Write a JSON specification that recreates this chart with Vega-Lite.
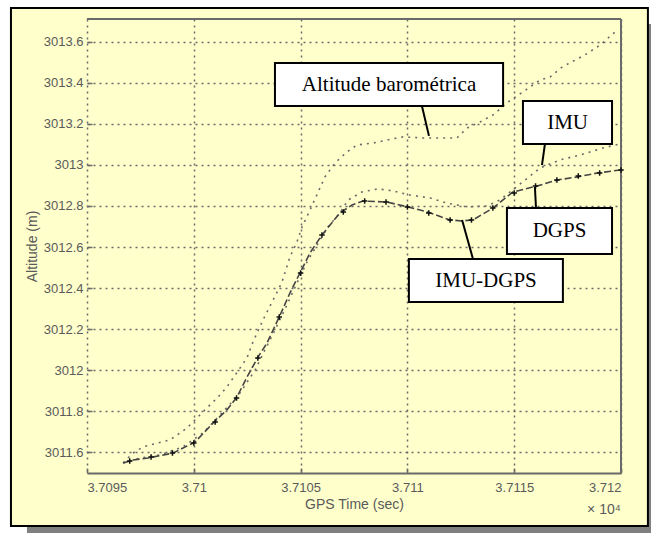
{
  "$schema": "https://vega.github.io/schema/vega-lite/v6.json",
  "width": 534,
  "height": 454,
  "autosize": {"type": "none"},
  "padding": {"left": 87, "top": 19, "right": 30, "bottom": 60},
  "background": "#FFFFCC",
  "config": {
    "view": {"stroke": null},
    "axis": {
      "grid": true,
      "gridDash": [2, 4],
      "gridColor": "#6a6a6a",
      "gridWidth": 1.5,
      "domainColor": "#6a6a6a",
      "domainWidth": 2,
      "tickColor": "#6a6a6a",
      "tickWidth": 1.5,
      "tickSize": -5,
      "labelFont": "Liberation Sans",
      "labelFontSize": 13,
      "labelColor": "#5a5a5a",
      "titleFont": "Liberation Sans",
      "titleFontSize": 14,
      "titleFontWeight": "normal",
      "titleColor": "#5a5a5a"
    }
  },
  "datasets": {
    "curves": [
      {"serie": "Altitude barométrica", "t": 37096.69, "alt": 3011.549},
      {"serie": "Altitude barométrica", "t": 37097.15, "alt": 3011.597},
      {"serie": "Altitude barométrica", "t": 37097.62, "alt": 3011.627},
      {"serie": "Altitude barométrica", "t": 37098.32, "alt": 3011.646},
      {"serie": "Altitude barométrica", "t": 37098.89, "alt": 3011.661},
      {"serie": "Altitude barométrica", "t": 37099.68, "alt": 3011.719},
      {"serie": "Altitude barométrica", "t": 37100.52, "alt": 3011.807},
      {"serie": "Altitude barométrica", "t": 37101.09, "alt": 3011.865},
      {"serie": "Altitude barométrica", "t": 37101.55, "alt": 3011.919},
      {"serie": "Altitude barométrica", "t": 37102.49, "alt": 3012.060},
      {"serie": "Altitude barométrica", "t": 37102.77, "alt": 3012.138},
      {"serie": "Altitude barométrica", "t": 37103.24, "alt": 3012.245},
      {"serie": "Altitude barométrica", "t": 37103.47, "alt": 3012.293},
      {"serie": "Altitude barométrica", "t": 37103.90, "alt": 3012.381},
      {"serie": "Altitude barométrica", "t": 37104.13, "alt": 3012.430},
      {"serie": "Altitude barométrica", "t": 37104.50, "alt": 3012.551},
      {"serie": "Altitude barométrica", "t": 37104.83, "alt": 3012.625},
      {"serie": "Altitude barométrica", "t": 37105.07, "alt": 3012.698},
      {"serie": "Altitude barométrica", "t": 37105.44, "alt": 3012.780},
      {"serie": "Altitude barométrica", "t": 37106.14, "alt": 3012.941},
      {"serie": "Altitude barométrica", "t": 37106.61, "alt": 3013.009},
      {"serie": "Altitude barométrica", "t": 37107.17, "alt": 3013.063},
      {"serie": "Altitude barométrica", "t": 37107.64, "alt": 3013.097},
      {"serie": "Altitude barométrica", "t": 37108.39, "alt": 3013.106},
      {"serie": "Altitude barométrica", "t": 37109.28, "alt": 3013.126},
      {"serie": "Altitude barométrica", "t": 37109.79, "alt": 3013.136},
      {"serie": "Altitude barométrica", "t": 37110.73, "alt": 3013.131},
      {"serie": "Altitude barométrica", "t": 37111.85, "alt": 3013.131},
      {"serie": "Altitude barométrica", "t": 37112.32, "alt": 3013.131},
      {"serie": "Altitude barométrica", "t": 37112.79, "alt": 3013.179},
      {"serie": "Altitude barométrica", "t": 37113.40, "alt": 3013.209},
      {"serie": "Altitude barométrica", "t": 37114.01, "alt": 3013.243},
      {"serie": "Altitude barométrica", "t": 37114.71, "alt": 3013.306},
      {"serie": "Altitude barométrica", "t": 37115.41, "alt": 3013.355},
      {"serie": "Altitude barométrica", "t": 37116.21, "alt": 3013.413},
      {"serie": "Altitude barométrica", "t": 37116.68, "alt": 3013.428},
      {"serie": "Altitude barométrica", "t": 37117.24, "alt": 3013.476},
      {"serie": "Altitude barométrica", "t": 37118.31, "alt": 3013.535},
      {"serie": "Altitude barométrica", "t": 37119.02, "alt": 3013.583},
      {"serie": "Altitude barométrica", "t": 37119.72, "alt": 3013.647},
      {"serie": "IMU", "t": 37096.69, "alt": 3011.549},
      {"serie": "IMU", "t": 37097.48, "alt": 3011.573},
      {"serie": "IMU", "t": 37098.42, "alt": 3011.588},
      {"serie": "IMU", "t": 37099.49, "alt": 3011.627},
      {"serie": "IMU", "t": 37100.43, "alt": 3011.695},
      {"serie": "IMU", "t": 37101.23, "alt": 3011.782},
      {"serie": "IMU", "t": 37102.16, "alt": 3011.889},
      {"serie": "IMU", "t": 37102.87, "alt": 3012.001},
      {"serie": "IMU", "t": 37103.33, "alt": 3012.099},
      {"serie": "IMU", "t": 37103.80, "alt": 3012.196},
      {"serie": "IMU", "t": 37104.36, "alt": 3012.318},
      {"serie": "IMU", "t": 37104.83, "alt": 3012.425},
      {"serie": "IMU", "t": 37105.30, "alt": 3012.527},
      {"serie": "IMU", "t": 37105.77, "alt": 3012.610},
      {"serie": "IMU", "t": 37106.28, "alt": 3012.698},
      {"serie": "IMU", "t": 37106.84, "alt": 3012.766},
      {"serie": "IMU", "t": 37107.22, "alt": 3012.829},
      {"serie": "IMU", "t": 37107.87, "alt": 3012.868},
      {"serie": "IMU", "t": 37108.62, "alt": 3012.883},
      {"serie": "IMU", "t": 37109.33, "alt": 3012.873},
      {"serie": "IMU", "t": 37110.12, "alt": 3012.853},
      {"serie": "IMU", "t": 37111.06, "alt": 3012.839},
      {"serie": "IMU", "t": 37111.85, "alt": 3012.814},
      {"serie": "IMU", "t": 37112.79, "alt": 3012.795},
      {"serie": "IMU", "t": 37113.73, "alt": 3012.800},
      {"serie": "IMU", "t": 37114.33, "alt": 3012.829},
      {"serie": "IMU", "t": 37115.04, "alt": 3012.887},
      {"serie": "IMU", "t": 37116.21, "alt": 3012.985},
      {"serie": "IMU", "t": 37117.14, "alt": 3013.024},
      {"serie": "IMU", "t": 37118.08, "alt": 3013.048},
      {"serie": "IMU", "t": 37119.16, "alt": 3013.082},
      {"serie": "IMU", "t": 37119.95, "alt": 3013.102},
      {"serie": "IMU-DGPS", "t": 37096.69, "alt": 3011.549},
      {"serie": "IMU-DGPS", "t": 37097.15, "alt": 3011.563},
      {"serie": "IMU-DGPS", "t": 37097.86, "alt": 3011.573},
      {"serie": "IMU-DGPS", "t": 37099.03, "alt": 3011.597},
      {"serie": "IMU-DGPS", "t": 37100.06, "alt": 3011.651},
      {"serie": "IMU-DGPS", "t": 37100.90, "alt": 3011.743},
      {"serie": "IMU-DGPS", "t": 37101.55, "alt": 3011.807},
      {"serie": "IMU-DGPS", "t": 37102.02, "alt": 3011.870},
      {"serie": "IMU-DGPS", "t": 37102.49, "alt": 3011.967},
      {"serie": "IMU-DGPS", "t": 37103.01, "alt": 3012.065},
      {"serie": "IMU-DGPS", "t": 37103.43, "alt": 3012.133},
      {"serie": "IMU-DGPS", "t": 37104.04, "alt": 3012.269},
      {"serie": "IMU-DGPS", "t": 37104.50, "alt": 3012.376},
      {"serie": "IMU-DGPS", "t": 37104.97, "alt": 3012.474},
      {"serie": "IMU-DGPS", "t": 37105.44, "alt": 3012.571},
      {"serie": "IMU-DGPS", "t": 37106.00, "alt": 3012.659},
      {"serie": "IMU-DGPS", "t": 37106.84, "alt": 3012.766},
      {"serie": "IMU-DGPS", "t": 37107.41, "alt": 3012.805},
      {"serie": "IMU-DGPS", "t": 37107.92, "alt": 3012.824},
      {"serie": "IMU-DGPS", "t": 37109.04, "alt": 3012.819},
      {"serie": "IMU-DGPS", "t": 37110.03, "alt": 3012.795},
      {"serie": "IMU-DGPS", "t": 37110.92, "alt": 3012.771},
      {"serie": "IMU-DGPS", "t": 37111.99, "alt": 3012.732},
      {"serie": "IMU-DGPS", "t": 37112.56, "alt": 3012.727},
      {"serie": "IMU-DGPS", "t": 37113.07, "alt": 3012.732},
      {"serie": "IMU-DGPS", "t": 37114.01, "alt": 3012.790},
      {"serie": "IMU-DGPS", "t": 37114.94, "alt": 3012.868},
      {"serie": "IMU-DGPS", "t": 37116.07, "alt": 3012.897},
      {"serie": "IMU-DGPS", "t": 37117.00, "alt": 3012.926},
      {"serie": "IMU-DGPS", "t": 37117.94, "alt": 3012.941},
      {"serie": "IMU-DGPS", "t": 37118.88, "alt": 3012.960},
      {"serie": "IMU-DGPS", "t": 37119.95, "alt": 3012.975},
      {"serie": "DGPS", "t": 37097, "alt": 3011.558},
      {"serie": "DGPS", "t": 37098, "alt": 3011.578},
      {"serie": "DGPS", "t": 37099, "alt": 3011.597},
      {"serie": "DGPS", "t": 37100, "alt": 3011.646},
      {"serie": "DGPS", "t": 37101, "alt": 3011.748},
      {"serie": "DGPS", "t": 37102, "alt": 3011.865},
      {"serie": "DGPS", "t": 37103, "alt": 3012.060},
      {"serie": "DGPS", "t": 37104, "alt": 3012.259},
      {"serie": "DGPS", "t": 37105, "alt": 3012.474},
      {"serie": "DGPS", "t": 37106, "alt": 3012.659},
      {"serie": "DGPS", "t": 37107, "alt": 3012.771},
      {"serie": "DGPS", "t": 37108, "alt": 3012.824},
      {"serie": "DGPS", "t": 37109, "alt": 3012.819},
      {"serie": "DGPS", "t": 37110, "alt": 3012.795},
      {"serie": "DGPS", "t": 37111, "alt": 3012.766},
      {"serie": "DGPS", "t": 37112, "alt": 3012.732},
      {"serie": "DGPS", "t": 37113, "alt": 3012.732},
      {"serie": "DGPS", "t": 37114, "alt": 3012.790},
      {"serie": "DGPS", "t": 37115, "alt": 3012.863},
      {"serie": "DGPS", "t": 37116, "alt": 3012.897},
      {"serie": "DGPS", "t": 37117, "alt": 3012.926},
      {"serie": "DGPS", "t": 37118, "alt": 3012.946},
      {"serie": "DGPS", "t": 37119, "alt": 3012.960},
      {"serie": "DGPS", "t": 37120, "alt": 3012.975}
    ],
    "annot": [
      {"label": "Altitude barométrica", "bx1": 37103.80, "bx2": 37114.48, "by1": 3013.287, "by2": 3013.496, "tx": 37109.14, "ty": 3013.391, "lx1": 37110.68, "ly1": 3013.287, "lx2": 37111.01, "ly2": 3013.141},
      {"label": "IMU", "bx1": 37115.41, "bx2": 37119.58, "by1": 3013.102, "by2": 3013.311, "tx": 37117.50, "ty": 3013.206, "lx1": 37116.44, "ly1": 3013.102, "lx2": 37116.30, "ly2": 3012.999},
      {"label": "DGPS", "bx1": 37114.66, "bx2": 37119.58, "by1": 3012.566, "by2": 3012.790, "tx": 37117.12, "ty": 3012.678, "lx1": 37116.02, "ly1": 3012.790, "lx2": 37115.97, "ly2": 3012.892},
      {"label": "IMU-DGPS", "bx1": 37110.07, "bx2": 37117.28, "by1": 3012.332, "by2": 3012.542, "tx": 37113.68, "ty": 3012.437, "lx1": 37113.07, "ly1": 3012.542, "lx2": 37112.56, "ly2": 3012.732}
    ]
  },
  "encoding": {
    "x": {
      "type": "quantitative",
      "scale": {"domain": [37095, 37120], "nice": false, "zero": false},
      "axis": {
        "values": [37095, 37100, 37105, 37110, 37115, 37120],
        "labelExpr": "format(datum.value / 10000, '.5~g')",
        "title": "GPS Time (sec)",
        "labelPadding": 13,
        "titlePadding": 3
      }
    },
    "y": {
      "type": "quantitative",
      "scale": {"domain": [3011.5, 3013.71], "nice": false, "zero": false},
      "axis": {
        "values": [3011.6, 3011.8, 3012, 3012.2, 3012.4, 3012.6, 3012.8, 3013, 3013.2, 3013.4, 3013.6],
        "format": ".5~g",
        "title": "Altitude (m)",
        "domain": false,
        "labelPadding": 9,
        "titlePadding": 4
      }
    }
  },
  "layer": [
    {"data": {"values": [{}]}, "mark": {"type": "rect", "color": "white"},
     "encoding": {"x": {"datum": 37090.69}, "x2": {"datum": 37121.64}, "y": {"datum": 3013.764}, "y2": {"datum": 3013.827}}},
    {"data": {"values": [{}]}, "mark": {"type": "rect", "color": "white"},
     "encoding": {"x": {"datum": 37090.69}, "x2": {"datum": 37091.44}, "y": {"datum": 3011.184}, "y2": {"datum": 3013.827}}},
    {"data": {"values": [{}]}, "mark": {"type": "rect", "color": "white"},
     "encoding": {"x": {"datum": 37121.26}, "x2": {"datum": 37121.64}, "y": {"datum": 3013.686}, "y2": {"datum": 3013.827}}},
    {"data": {"values": [{}]}, "mark": {"type": "rect", "color": "white"},
     "encoding": {"x": {"datum": 37090.69}, "x2": {"datum": 37092.19}, "y": {"datum": 3011.184}, "y2": {"datum": 3011.242}}},
    {"data": {"values": [{}]}, "mark": {"type": "rect", "color": "#808080"},
     "encoding": {"x": {"datum": 37092.19}, "x2": {"datum": 37121.64}, "y": {"datum": 3011.184}, "y2": {"datum": 3011.242}}},
    {"data": {"values": [{}]}, "mark": {"type": "rect", "color": "#808080"},
     "encoding": {"x": {"datum": 37121.26}, "x2": {"datum": 37121.64}, "y": {"datum": 3011.184}, "y2": {"datum": 3013.686}}},
    {"data": {"values": [{}]}, "mark": {"type": "rect", "filled": false, "stroke": "black", "strokeWidth": 2},
     "encoding": {"x": {"datum": 37091.44}, "x2": {"datum": 37121.26}, "y": {"datum": 3011.242}, "y2": {"datum": 3013.764}}},
    {"data": {"values": [{}]}, "mark": {"type": "rule", "color": "#6a6a6a", "strokeWidth": 2},
     "encoding": {"x": {"datum": 37095}, "x2": {"datum": 37120}, "y": {"datum": 3013.71}}},
    {"data": {"values": [{}]}, "mark": {"type": "rule", "color": "#6a6a6a", "strokeWidth": 2},
     "encoding": {"x": {"datum": 37120}, "y": {"datum": 3011.5}, "y2": {"datum": 3013.71}}},
    {"data": {"name": "curves"}, "transform": [{"filter": "datum.serie === 'Altitude barométrica'"}],
     "mark": {"type": "line", "color": "#6a6a6a", "strokeWidth": 1.6, "strokeDash": [2, 5]},
     "encoding": {"x": {"field": "t", "type": "quantitative"}, "y": {"field": "alt", "type": "quantitative"}}},
    {"data": {"name": "curves"}, "transform": [{"filter": "datum.serie === 'IMU'"}],
     "mark": {"type": "line", "color": "#6a6a6a", "strokeWidth": 1.6, "strokeDash": [2, 5]},
     "encoding": {"x": {"field": "t", "type": "quantitative"}, "y": {"field": "alt", "type": "quantitative"}}},
    {"data": {"name": "curves"}, "transform": [{"filter": "datum.serie === 'IMU-DGPS'"}],
     "mark": {"type": "line", "color": "#444444", "strokeWidth": 1.6, "strokeDash": [7, 3]},
     "encoding": {"x": {"field": "t", "type": "quantitative"}, "y": {"field": "alt", "type": "quantitative"}}},
    {"data": {"name": "curves"}, "transform": [{"filter": "datum.serie === 'DGPS'"}],
     "mark": {"type": "point", "shape": "M-1,0L1,0M0,-1L0,1", "filled": false, "stroke": "#111111", "strokeWidth": 1.5, "size": 30, "opacity": 1},
     "encoding": {"x": {"field": "t", "type": "quantitative"}, "y": {"field": "alt", "type": "quantitative"}}},
    {"data": {"name": "annot"},
     "mark": {"type": "rule", "color": "black", "strokeWidth": 2},
     "encoding": {"x": {"field": "lx1", "type": "quantitative"}, "x2": {"field": "lx2"}, "y": {"field": "ly1", "type": "quantitative"}, "y2": {"field": "ly2"}}},
    {"data": {"name": "annot"},
     "mark": {"type": "rect", "fill": "white", "stroke": "black", "strokeWidth": 2},
     "encoding": {"x": {"field": "bx1", "type": "quantitative"}, "x2": {"field": "bx2"}, "y": {"field": "by1", "type": "quantitative"}, "y2": {"field": "by2"}}},
    {"data": {"name": "annot"},
     "mark": {"type": "text", "font": "Liberation Serif", "fontSize": 21, "color": "black", "align": "center", "baseline": "middle"},
     "encoding": {"x": {"field": "tx", "type": "quantitative"}, "y": {"field": "ty", "type": "quantitative"}, "text": {"field": "label"}}},
    {"data": {"values": [{}]},
     "mark": {"type": "text", "font": "Liberation Sans", "fontSize": 14, "color": "#5a5a5a", "align": "center", "baseline": "middle", "text": "× 10⁴"},
     "encoding": {"x": {"datum": 37119.2}, "y": {"datum": 3011.32}}}
  ]
}
